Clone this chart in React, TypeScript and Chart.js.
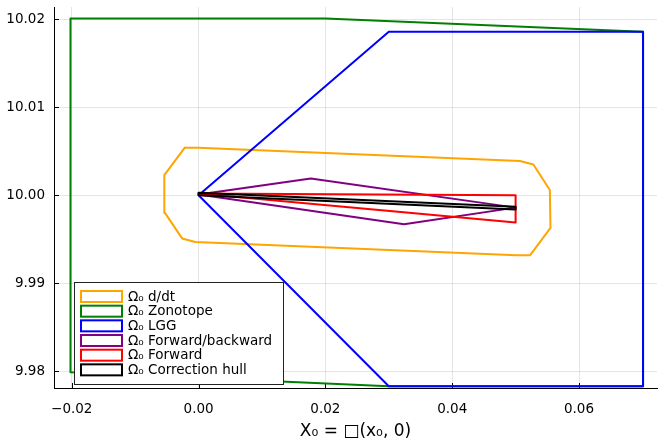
import React, { useEffect, useRef } from "react";
import { Chart, registerables } from "chart.js";

Chart.register(...registerables);

// ---- data ----
const seriesNames = [
  "Ω₀ d/dt",
  "Ω₀ Zonotope",
  "Ω₀ LGG",
  "Ω₀ Forward/backward",
  "Ω₀ Forward",
  "Ω₀ Correction hull",
];
const seriesColors = ["#FFA500", "#008000", "#0000FF", "#800080", "#FF0000", "#000000"];

const ddtX = [-0.0022, 0.0, 0.0507, 0.0528, 0.0554, 0.0555, 0.0523, 0.0501, -0.0005, -0.0026, -0.0053, -0.0054];
const ddtY = [10.0054, 10.0054, 10.0039, 10.0035, 10.0006, 9.9963, 9.9932, 9.9932, 9.9947, 9.9951, 9.998, 10.0023];

const zonoX = [-0.0202, 0.02, 0.0701, 0.0701, 0.03, -0.0202];
const zonoY = [10.0201, 10.0201, 10.0186, 9.9783, 9.9783, 9.9799];

const lggX = [0.0, 0.03, 0.0701, 0.0701, 0.03];
const lggY = [10.0, 10.0186, 10.0186, 9.9783, 9.9783];

const fbX = [0.0, 0.0177, 0.05, 0.0324];
const fbY = [10.0001, 10.0019, 9.9986, 9.9967];

const fwdX = [0.0, 0.05, 0.05];
const fwdY = [10.0002, 10.0, 9.9969];

const hullX = [0.0, 0.05, 0.05, 0.0];
const hullY = [10.0003, 9.9987, 9.9984, 10.0];

const xTicks = [-0.02, 0.0, 0.02, 0.04, 0.06];
const yTicks = [9.98, 9.99, 10.0, 10.01, 10.02];
const xRange = [-0.0228, 0.0723];
const yRange = [9.9781, 10.0214];
const xTitle = "X₀ = □(x₀, 0)";

const shapes = [
  [ddtX, ddtY],
  [zonoX, zonoY],
  [lggX, lggY],
  [fbX, fbY],
  [fwdX, fwdY],
  [hullX, hullY],
];

const FONT = "'DejaVu Sans', sans-serif";

function closed(xs: number[], ys: number[]) {
  const pts = xs.map((x, i) => ({ x, y: ys[i] }));
  pts.push({ x: xs[0], y: ys[0] });
  return pts;
}

function fmt(v: number) {
  const s = Math.abs(v) < 1e-12 ? "0.00" : v.toFixed(2);
  return s.replace("-", "\u2212");
}

const innerTicksPlugin = {
  id: "innerTicks",
  beforeDatasetsDraw(chart: any) {
    const { ctx, chartArea: a, scales } = chart;
    ctx.save();
    ctx.strokeStyle = "#000";
    ctx.lineWidth = 1;
    ctx.beginPath();
    for (const v of xTicks) {
      const px = Math.round(scales.x.getPixelForValue(v)) + 0.5;
      ctx.moveTo(px, a.bottom);
      ctx.lineTo(px, a.bottom - 5);
    }
    for (const v of yTicks) {
      const py = Math.round(scales.y.getPixelForValue(v)) + 0.5;
      ctx.moveTo(a.left, py);
      ctx.lineTo(a.left + 5, py);
    }
    ctx.stroke();
    ctx.restore();
  },
};

const legendPlugin = {
  id: "boxLegend",
  afterDraw(chart: any) {
    const { ctx, chartArea: a } = chart;
    const w = 209;
    const h = 102;
    const left = a.left + 20;
    const top = a.bottom - 4 - h;
    ctx.save();
    ctx.fillStyle = "#ffffff";
    ctx.fillRect(left, top, w, h);
    ctx.strokeStyle = "#222";
    ctx.lineWidth = 1;
    ctx.strokeRect(Math.round(left) + 0.5, Math.round(top) + 0.5, w, h);
    ctx.font = `13.5px ${FONT}`;
    ctx.textBaseline = "middle";
    ctx.textAlign = "left";
    seriesNames.forEach((name, i) => {
      const sy = top + 9 + i * 14.67;
      ctx.strokeStyle = seriesColors[i];
      ctx.lineWidth = 2;
      ctx.strokeRect(left + 7, sy, 41, 11);
      ctx.fillStyle = "#000";
      ctx.fillText(name, left + 54, sy + 6);
    });
    ctx.restore();
  },
};

export default function App() {
  const ref = useRef<HTMLCanvasElement>(null);

  useEffect(() => {
    if (!ref.current) return;
    const n = shapes.length;
    const chart = new Chart(ref.current, {
      type: "scatter",
      data: {
        datasets: shapes.map(([xs, ys], i) => ({
          label: seriesNames[i],
          data: closed(xs, ys),
          showLine: true,
          borderColor: seriesColors[i],
          backgroundColor: seriesColors[i],
          borderWidth: 2,
          borderJoinStyle: "round",
          borderCapStyle: "round",
          pointRadius: 0,
          pointHoverRadius: 0,
          tension: 0,
          fill: false,
          order: n - i,
        })),
      },
      options: {
        responsive: false,
        animation: false,
        events: [],
        layout: { padding: { left: 0, right: 1, top: 7, bottom: 0 } },
        plugins: {
          legend: { display: false },
          tooltip: { enabled: false },
        },
        scales: {
          x: {
            type: "linear",
            min: xRange[0],
            max: xRange[1],
            afterBuildTicks: (s: any) => {
              s.ticks = xTicks.map((v) => ({ value: v }));
            },
            afterFit: (s: any) => {
              s.height = 55;
              s.paddingLeft = 0;
              s.paddingRight = 0;
            },
            grid: { color: "rgba(0,0,0,0.1)", drawTicks: false },
            border: { display: true, color: "#000", width: 1 },
            ticks: {
              padding: 13,
              color: "#000",
              font: { family: FONT, size: 13.5 },
              maxRotation: 0,
              autoSkip: false,
              callback: (v: any) => fmt(Number(v)),
            },
            title: {
              display: true,
              text: xTitle,
              color: "#000",
              font: { family: FONT, size: 17 },
              padding: { top: 0, bottom: 1 },
            },
          },
          y: {
            type: "linear",
            min: yRange[0],
            max: yRange[1],
            afterBuildTicks: (s: any) => {
              s.ticks = yTicks.map((v) => ({ value: v }));
            },
            afterFit: (s: any) => {
              s.width = 54;
              s.paddingTop = 0;
              s.paddingBottom = 0;
            },
            grid: { color: "rgba(0,0,0,0.1)", drawTicks: false },
            border: { display: true, color: "#000", width: 1 },
            ticks: {
              padding: 9,
              color: "#000",
              font: { family: FONT, size: 13.5 },
              autoSkip: false,
              callback: (v: any) => fmt(Number(v)),
            },
          },
        },
      },
      plugins: [innerTicksPlugin, legendPlugin],
    });
    return () => chart.destroy();
  }, []);

  return (
    <div style={{ position: "absolute", left: 0, top: 0, width: 658, height: 443, background: "#fff" }}>
      <canvas ref={ref} width={658} height={443} style={{ width: 658, height: 443, display: "block" }} />
    </div>
  );
}
